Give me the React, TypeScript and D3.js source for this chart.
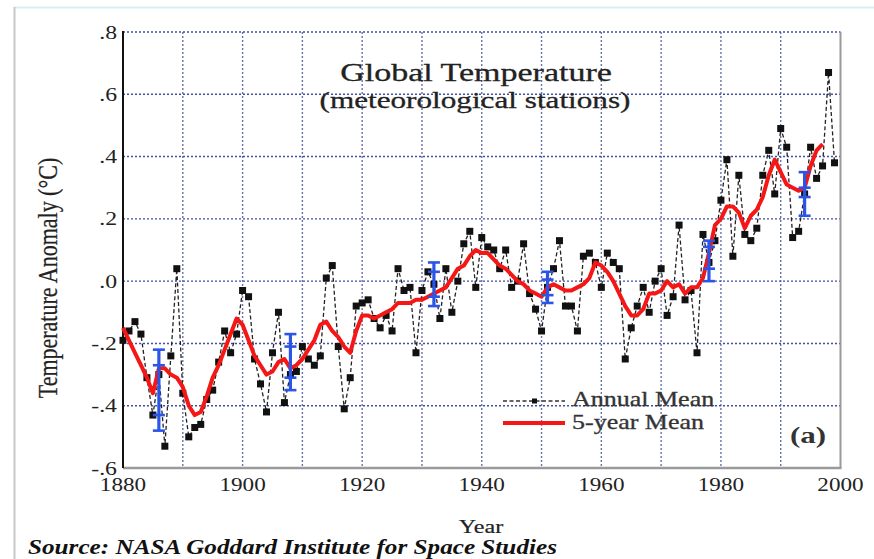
import * as d3 from "d3";

// GISS meteorological-station annual means, 1880..1999 (°C)
const firstYear = 1880;
const annualMean = [
  -0.19, -0.16, -0.13, -0.17, -0.31, -0.43, -0.3, -0.53, -0.24, 0.04,
  -0.36, -0.5, -0.47, -0.46, -0.38, -0.35, -0.26, -0.16, -0.23, -0.17,
  -0.03, -0.05, -0.25, -0.33, -0.42, -0.23, -0.1, -0.39, -0.3, -0.29,
  -0.21, -0.25, -0.27, -0.24, 0.01, 0.05, -0.21, -0.41, -0.31, -0.08,
  -0.07, -0.06, -0.12, -0.15, -0.11, -0.16, 0.04, -0.03, -0.02, -0.23,
  -0.03, 0.03, -0.01, -0.12, 0.04, -0.1, 0.0, 0.12, 0.16, -0.02,
  0.14, 0.11, 0.1, 0.04, 0.1, -0.02, 0.0, 0.12, -0.04, -0.09,
  -0.16, -0.02, 0.04, 0.13, -0.08, -0.08, -0.16, 0.08, 0.09, 0.06,
  -0.02, 0.09, 0.06, 0.04, -0.25, -0.15, -0.08, -0.02, -0.1, 0.0,
  0.04, -0.11, -0.05, 0.18, -0.06, -0.03, -0.23, 0.15, 0.06, 0.13,
  0.26, 0.39, 0.08, 0.34, 0.15, 0.13, 0.17, 0.34, 0.42, 0.28,
  0.49, 0.43, 0.14, 0.16, 0.28, 0.43, 0.33, 0.37, 0.67, 0.38,
];

// 5-year running mean as drawn, 1880..1997
const fiveYearMean = [
  -0.15, -0.19, -0.23, -0.27, -0.31, -0.36, -0.28, -0.28, -0.3, -0.31,
  -0.34, -0.4, -0.43, -0.42, -0.37, -0.31, -0.27, -0.22, -0.17, -0.12,
  -0.14, -0.19, -0.24, -0.27, -0.3, -0.29, -0.26, -0.25, -0.28, -0.27,
  -0.25, -0.22, -0.19, -0.14, -0.13, -0.16, -0.18, -0.21, -0.23, -0.16,
  -0.11, -0.11, -0.12, -0.11, -0.1, -0.09, -0.07, -0.07, -0.07, -0.06,
  -0.06, -0.05, -0.04, -0.03, -0.02, 0.01, 0.04, 0.05, 0.08, 0.1,
  0.09, 0.09, 0.07, 0.05, 0.04, 0.02, 0.0, -0.01, -0.03, -0.04,
  -0.05, -0.02, -0.01, -0.02, -0.03, -0.03, -0.02, -0.01, 0.01, 0.06,
  0.05, 0.03, 0.0, -0.04, -0.08, -0.11, -0.11, -0.09, -0.04, -0.04,
  -0.03, 0.0, -0.02, -0.01, -0.04, -0.02, -0.02, 0.01, 0.09, 0.18,
  0.2, 0.24, 0.24, 0.22, 0.17, 0.21, 0.23, 0.27, 0.34, 0.39,
  0.35, 0.31, 0.3, 0.29, 0.3, 0.37, 0.42, 0.44,
];

// blue uncertainty bars
const errYears = [1886, 1908, 1932, 1951, 1978, 1994];
const errOuterLo = [-0.48, -0.35, -0.08, -0.07, 0.0, 0.21];
const errOuterHi = [-0.22, -0.17, 0.06, 0.03, 0.13, 0.35];
const errInnerLo = [-0.43, -0.31, -0.05, -0.045, 0.04, 0.27];
const errInnerHi = [-0.27, -0.21, 0.03, 0.005, 0.11, 0.3];

const xTicks = [1880, 1900, 1920, 1940, 1960, 1980, 2000];
const yTicks = [0.8, 0.6, 0.4, 0.2, 0.0, -0.2, -0.4, -0.6];
const yTickLabels = [".8", ".6", ".4", ".2", ".0", "-.2", "-.4", "-.6"];
const gridYears = [1890, 1900, 1910, 1920, 1930, 1940, 1950, 1960, 1970, 1980, 1990];

const W = 874;
const H = 559;
const left = 123, right = 840.5, top = 32, bottom = 468;
const serif = "'Liberation Serif', 'Times New Roman', serif";

export default function App() {
  const x = d3.scaleLinear().domain([1880, 2000]).range([left, right]);
  const y = d3.scaleLinear().domain([-0.6, 0.8]).range([bottom, top]);

  const annual = annualMean.map((v, i) => ({ yr: firstYear + i, v }));
  const smooth = fiveYearMean.map((v, i) => ({ yr: firstYear + i, v }));

  const line = d3
    .line<{ yr: number; v: number }>()
    .x((d) => x(d.yr))
    .y((d) => y(d.v));

  const cap = 6; // half width of the blue caps

  return (
    <div style={{ position: "absolute", left: 0, top: 0 }}>
      <svg width={W} height={H} style={{ display: "block", background: "#fff" }}>
        {/* scan frame */}
        <line x1={14} x2={W} y1={7.5} y2={7.5} stroke="#d4f1f6" strokeWidth={2} />
        <line x1={14.5} x2={14.5} y1={7} y2={H} stroke="#c8c8c8" strokeWidth={2} />

        {/* grid */}
        {yTicks.slice(0, -1).map((v) => (
          <line key={"gy" + v} x1={left} x2={right} y1={y(v)} y2={y(v)}
            stroke="#2c3c98" strokeWidth={1.4} strokeDasharray="2,2" opacity={0.9} />
        ))}
        {gridYears.map((yr) => (
          <line key={"gx" + yr} x1={x(yr)} x2={x(yr)} y1={top} y2={bottom}
            stroke="#4f5a9c" strokeWidth={1.4} strokeDasharray="2,2" opacity={0.85} />
        ))}

        {/* frame */}
        <line x1={right} x2={right} y1={top} y2={bottom} stroke="#9a9a9a" strokeWidth={2} />
        <line x1={left} x2={right + 1} y1={bottom} y2={bottom} stroke="#9a9a9a" strokeWidth={2.5} />
        <line x1={left} x2={left} y1={top - 1} y2={bottom} stroke="#111" strokeWidth={2} />

        {/* annual mean */}
        <path d={line(annual) ?? ""} fill="none" stroke="#222" strokeWidth={1.3} strokeDasharray="4,2.5" />
        {annual.map((d) => (
          <rect key={"p" + d.yr} x={x(d.yr) - 3.5} y={y(d.v) - 3.5} width={7} height={7} fill="#111" />
        ))}

        {/* 5-year mean */}
        <path d={line(smooth) ?? ""} fill="none" stroke="#f51616" strokeWidth={4} strokeLinejoin="round" />

        {/* error bars */}
        {errYears.map((yr, i) => {
          const cx = x(yr);
          return (
            <g key={"e" + yr} stroke="#2a55e6" strokeWidth={2.6}>
              <line x1={cx} x2={cx} y1={y(errOuterHi[i])} y2={y(errOuterLo[i])} strokeWidth={3.2} />
              {[errOuterHi[i], errOuterLo[i], errInnerHi[i], errInnerLo[i]].map((v, j) => (
                <line key={j} x1={cx - cap} x2={cx + cap} y1={y(v)} y2={y(v)} />
              ))}
            </g>
          );
        })}

        {/* ticks */}
        {yTicks.map((v, i) => (
          <text key={"yt" + v} transform={`translate(117,${y(v) + 6.5}) scale(1.25,1)`}
            textAnchor="end" fontFamily={serif} fontSize={19} fill="#222">
            {yTickLabels[i]}
          </text>
        ))}
        {xTicks.map((yr) => (
          <text key={"xt" + yr} transform={`translate(${x(yr)},491) scale(1.22,1)`}
            textAnchor="middle" fontFamily={serif} fontSize={19} fill="#222">
            {yr}
          </text>
        ))}

        {/* titles */}
        <g fontFamily={serif} fill="#222" textAnchor="middle" stroke="#222" strokeWidth={0.3}>
          <text transform="translate(476,81) scale(1.36,1)" fontSize={25}>Global Temperature</text>
          <text transform="translate(475,108) scale(1.3,1)" fontSize={24}>(meteorological stations)</text>
          <text transform="translate(57,278) scale(1.22,1) rotate(-90)" fontSize={22} strokeWidth={0.2}>
            Temperature Anomaly (°C)
          </text>
          <text transform="translate(481,533) scale(1.27,1)" fontSize={19} strokeWidth={0.2}>Year</text>
        </g>
        <text transform="translate(28,554) scale(1.26,1)" fontFamily={serif} fontSize={20}
          fontWeight="bold" fontStyle="italic" fill="#111">
          Source: NASA Goddard Institute for Space Studies
        </text>

        {/* legend */}
        <line x1={503} x2={565} y1={401} y2={401} stroke="#333" strokeWidth={1.3} strokeDasharray="4,2.5" />
        <rect x={532} y={398.5} width={5} height={5} fill="#111" />
        <line x1={503} x2={565} y1={423} y2={423} stroke="#f51616" strokeWidth={4} />
        <g fontFamily={serif} fill="#333" fontSize={20} stroke="#333" strokeWidth={0.3}>
          <text transform="translate(572,406) scale(1.3,1)">Annual Mean</text>
          <text transform="translate(572,429) scale(1.3,1)">5-year Mean</text>
        </g>
        <text transform="translate(790,443) scale(1.35,1)" fontFamily={serif} fontSize={23}
          fontWeight="bold" fill="#333">
          (a)
        </text>
      </svg>
    </div>
  );
}
